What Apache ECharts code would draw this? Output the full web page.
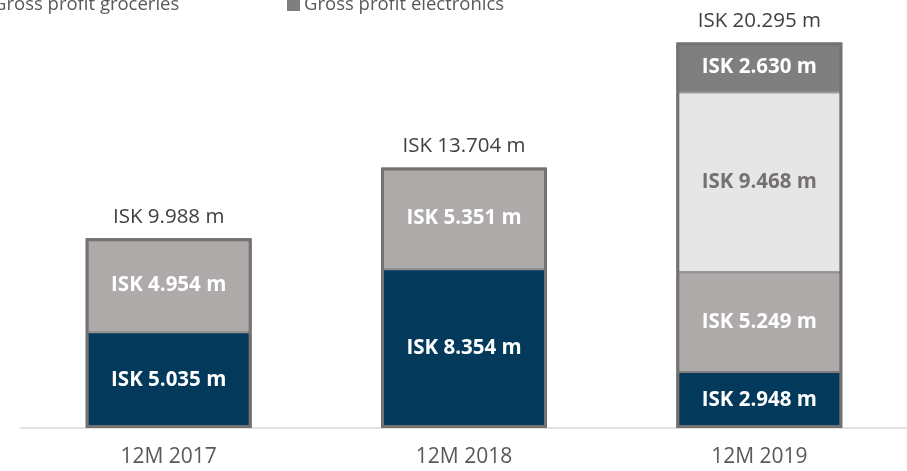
<!DOCTYPE html>
<html>
<head>
<meta charset="utf-8">
<script src="https://cdn.jsdelivr.net/npm/echarts@6/dist/echarts.min.js"></script>
<style>
  html, body { margin: 0; padding: 0; background: #ffffff; }
  #chart { width: 907px; height: 471px; }
</style>
</head>
<body>
<div id="chart"></div>
<script>
// values in ISK millions
const categories = ['12M 2017', '12M 2018', '12M 2019'];
const fuel = [5035, 8354, 2948];
const other = [4954, 5351, 5249];
const groceries = [null, null, 9468];
const electronics = [null, null, 2630];
const totals = [9988, 13704, 20295];

const FONT = 'Open Sans';

// 9468 -> "ISK 9.468 m"
function isk(v) {
  return 'ISK ' + String(v).replace(/\B(?=(\d{3})+(?!\d))/g, '.') + ' m';
}

let chart = echarts.init(document.getElementById('chart'));

function segment(name, data, color, textColor) {
  return {
    name: name,
    type: 'bar',
    stack: 'gp',
    barWidth: 166,
    data: data,
    itemStyle: { color: color, borderColor: '#7f7f7f', borderWidth: 1 },
    label: {
      show: true,
      position: 'inside',
      color: textColor,
      fontFamily: FONT,
      fontWeight: 'bold',
      fontSize: 20.5,
      formatter: p => isk(p.value)
    }
  };
}

chart.setOption({
  animation: false,
  textStyle: { fontFamily: FONT },
  legend: [
    {
      left: -24, top: -5, padding: 0,
      itemWidth: 11, itemHeight: 11,
      icon: 'rect',
      textStyle: { color: '#595959', fontSize: 18.5, fontFamily: FONT },
      data: ['Gross profit groceries']
    },
    {
      left: 287, top: -5, padding: 0,
      itemWidth: 11, itemHeight: 11,
      icon: 'rect',
      textStyle: { color: '#595959', fontSize: 18.5, fontFamily: FONT },
      data: ['Gross profit electronics']
    }
  ],
  grid: { left: 21, right: -4, top: 10, bottom: 43 },
  xAxis: {
    type: 'category',
    data: categories,
    axisLine: { lineStyle: { color: '#d9d9d9', width: 1.5 } },
    axisTick: { show: false },
    axisLabel: { color: '#595959', fontSize: 21, fontFamily: FONT, margin: 19 }
  },
  yAxis: {
    type: 'value',
    min: 0,
    max: 22000,
    show: false,
    splitLine: { show: false }
  },
  series: [
    segment('Gross profit fuel', fuel, '#033a5c', '#ffffff'),
    segment('Gross profit other', other, '#aeaaaa', '#ffffff'),
    segment('Gross profit groceries', groceries, '#e7e6e6', '#767171'),
    segment('Gross profit electronics', electronics, '#7f7f7f', '#ffffff'),
    {
      name: 'Total',
      type: 'bar',
      barWidth: 166,
      barGap: '-100%',
      data: totals,
      itemStyle: { color: 'rgba(0,0,0,0)', borderColor: '#767171', borderWidth: 3 },
      label: {
        show: true,
        position: 'top',
        distance: 11,
        color: '#404040',
        fontFamily: FONT,
        fontSize: 20.5,
        formatter: p => isk(p.value)
      },
      z: 5
    }
  ]
});
</script>
</body>
</html>
